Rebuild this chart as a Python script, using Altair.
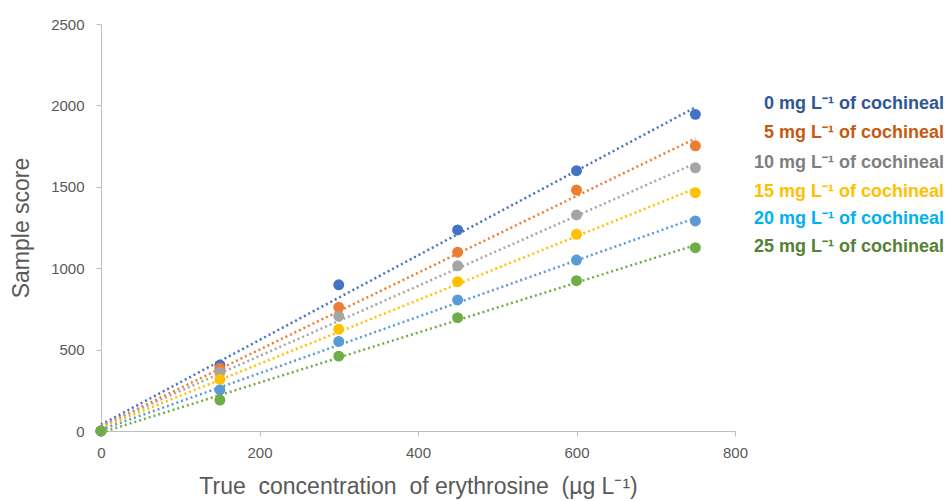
import altair as alt
import pandas as pd

x_vals = [0, 150, 300, 450, 600, 750]
series_names = ["0", "5", "10", "15", "20", "25"]
scores = {
    "0":  [0, 405, 898, 1235, 1599, 1945],
    "5":  [0, 385, 760, 1098, 1480, 1752],
    "10": [0, 360, 705, 1015, 1327, 1617],
    "15": [0, 317, 625, 917, 1208, 1464],
    "20": [0, 252, 550, 805, 1050, 1290],
    "25": [0, 190, 460, 696, 923, 1126],
}
marker_colors = ["#4472C4", "#ED7D31", "#A5A5A5", "#FFC000", "#5B9BD5", "#70AD47"]
label_colors = ["#2F5597", "#C55A11", "#7F7F7F", "#FFC000", "#00B0F0", "#548235"]
label_texts = [f"{n} mg L\u207b\u00b9 of cochineal" for n in series_names]

rows = []
for n in series_names:
    for xv, yv in zip(x_vals, scores[n]):
        rows.append({"conc": xv, "score": yv, "series": n})
df = pd.DataFrame(rows)

FONT = "Liberation Sans"
W, H = 634, 407

color_scale = alt.Scale(domain=series_names, range=marker_colors)
xenc = alt.X("conc:Q", scale=alt.Scale(domain=[0, 800], nice=False),
             axis=alt.Axis(values=[0, 200, 400, 600, 800], format="d", labelFlush=False,
                           title="True \u00a0concentration \u00a0of erythrosine \u00a0(\u00b5g L\u207b\u00b9)",
                           grid=False, domainColor="#BFBFBF", tickColor="#BFBFBF", tickSize=5,
                           labelColor="#595959", labelFontSize=15, labelFont=FONT, labelPadding=9,
                           titleColor="#595959", titleFontSize=23, titleFont=FONT, titleFontWeight="normal",
                           titlePadding=15))
yenc = alt.Y("score:Q", scale=alt.Scale(domain=[0, 2500], nice=False),
             axis=alt.Axis(values=[0, 500, 1000, 1500, 2000, 2500], format="d", labelFlush=False,
                           title="Sample score",
                           grid=False, domainColor="#BFBFBF", tickColor="#BFBFBF", tickSize=5,
                           labelColor="#595959", labelFontSize=15, labelFont=FONT, labelPadding=12,
                           titleColor="#595959", titleFontSize=23, titleFont=FONT, titleFontWeight="normal",
                           titlePadding=17))

base = alt.Chart(df)

trend = base.transform_regression(
    "conc", "score", groupby=["series"], method="linear", extent=[0, 750]
).mark_line(strokeDash=[2, 3], strokeWidth=2.5).encode(
    x=xenc, y=yenc,
    color=alt.Color("series:N", scale=color_scale, legend=None),
)

points = base.mark_point(filled=True, opacity=1, size=120).encode(
    x=alt.X("conc:Q"), y=alt.Y("score:Q"),
    color=alt.Color("series:N", scale=color_scale, legend=None),
)

LEFT = 101
label_y = [104, 133, 163, 192, 219, 247]
labels = []
for t, c, yy in zip(label_texts, label_colors, label_y):
    labels.append(
        alt.Chart(pd.DataFrame({"t": [t]})).mark_text(
            align="right", baseline="middle", font=FONT, fontSize=18, fontWeight="bold", color=c
        ).encode(text="t:N", x=alt.value(944 - LEFT), y=alt.value(yy - 24))
    )

chart = alt.layer(trend, points, *labels).properties(
    width=W, height=H,
    autosize=alt.AutoSizeParams(type="none"),
    padding={"left": LEFT, "top": 24, "right": 951 - LEFT - W, "bottom": 501 - 24 - H},
).configure(background="white").configure_view(stroke=None)

chart.save("out.html", embed_options={"renderer": "svg", "actions": False})
